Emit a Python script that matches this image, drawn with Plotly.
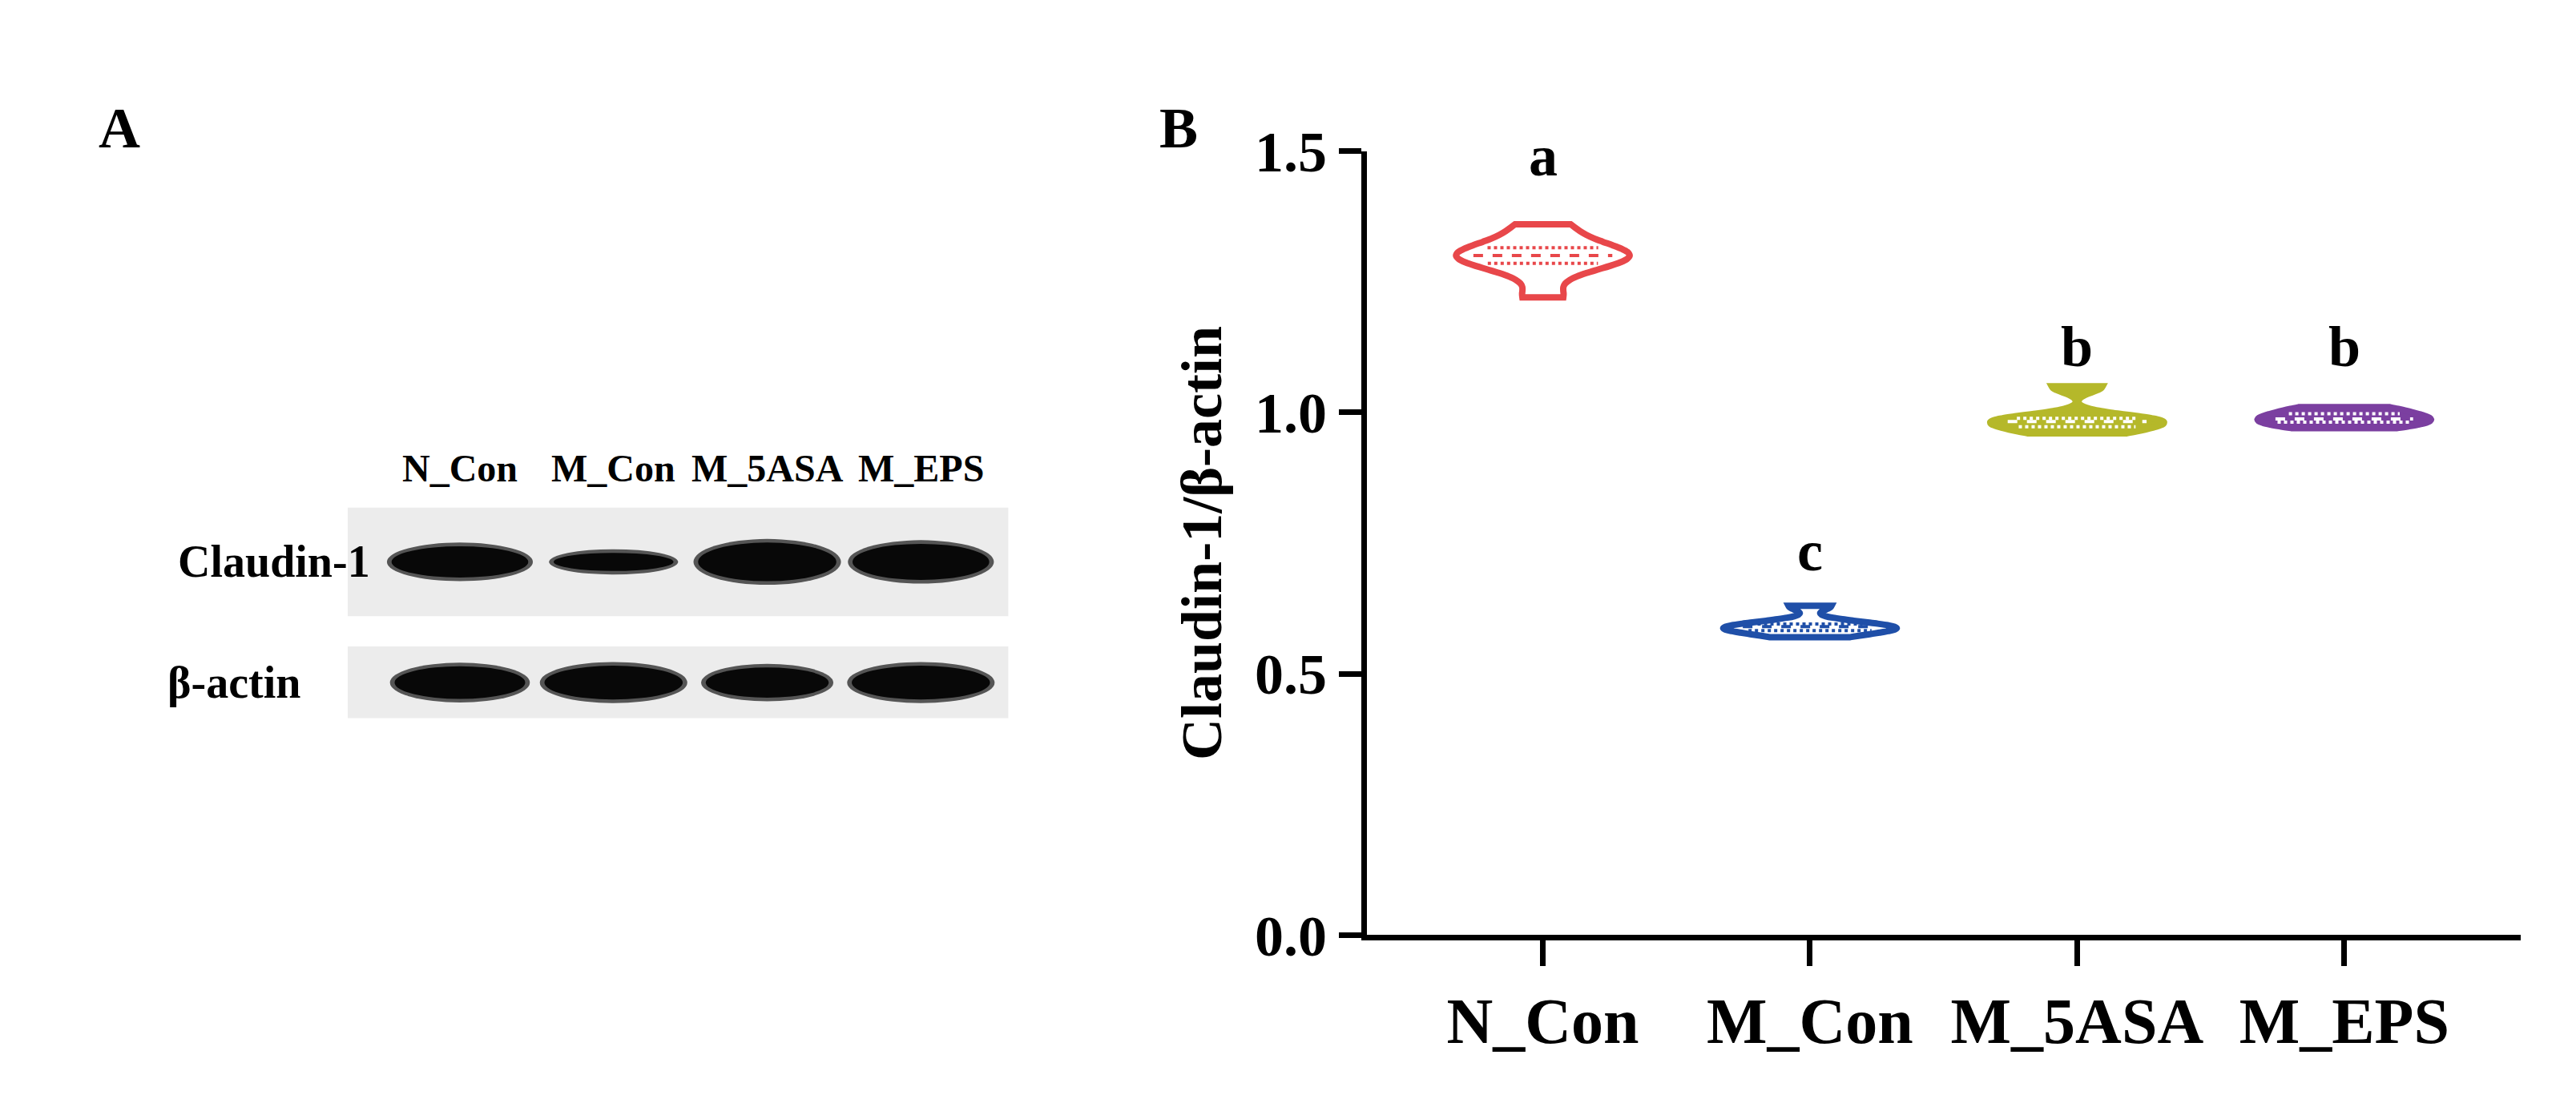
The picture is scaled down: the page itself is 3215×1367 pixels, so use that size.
import numpy as np
import plotly.graph_objects as go

# panel B data
groups = ["N_Con", "M_Con", "M_5ASA", "M_EPS"]
values = [
    [1.22, 1.27, 1.29, 1.30, 1.30, 1.31, 1.33, 1.36],
    [0.57, 0.58, 0.585, 0.59, 0.59, 0.60, 0.63],
    [0.96, 0.97, 0.98, 0.985, 0.99, 1.05],
    [0.97, 0.98, 0.985, 0.99, 1.00, 1.01],
]
letters = ["a", "c", "b", "b"]
letter_y = [1.49, 0.735, 1.125, 1.125]
colors = ["#e8474a", "#1f4fa8", "#b5b82a", "#7b3fa0"]
fills = ["white", "white", "#b5b82a", "#7b3fa0"]
inner = ["#e8474a", "#1f4fa8", "white", "white"]

# panel A blot (relative band sizes per lane)
lanes = ["N_Con", "M_Con", "M_5ASA", "M_EPS"]
rows = ["Claudin-1", "β-actin"]
band_w = [[0.89, 0.78, 0.90, 0.89], [0.85, 0.90, 0.80, 0.90]]
band_h = [[0.26, 0.15, 0.32, 0.30], [0.27, 0.28, 0.25, 0.28]]
row_box_h = [0.45, 0.30]
row_label_x = [0.066, 0.062]

FONT = "Liberation Serif"
VW = 0.65

fig = go.Figure()


def kde(data, pts):
    d = np.asarray(data)
    q1, q3 = np.percentile(d, [25, 75])
    bw = 1.059 * min(d.std(ddof=1), (q3 - q1) / 1.349) * len(d) ** -0.2
    return np.exp(-0.5 * ((pts[:, None] - d[None, :]) / bw) ** 2).sum(axis=1)


for i, g in enumerate(groups):
    fig.add_trace(go.Violin(
        x=[g] * len(values[i]), y=values[i], name=g, spanmode="hard",
        width=VW, scalemode="width", points=False, box_visible=False,
        fillcolor=fills[i], line=dict(color=colors[i], width=8),
        opacity=1, showlegend=False, hoverinfo="skip"))
    d = np.asarray(values[i])
    grid = np.linspace(d.min(), d.max(), 200)
    dmax = kde(d, grid).max()
    for q, dash in [(25, "dot"), (50, "dash"), (75, "dot")]:
        yq = np.percentile(d, q)
        hw = kde(d, np.array([yq]))[0] / dmax * VW / 2 * 0.8
        fig.add_trace(go.Scatter(
            x=[i - hw, i + hw], y=[yq, yq], mode="lines", xaxis="x3", yaxis="y",
            line=dict(color=inner[i], width=4, dash=dash),
            showlegend=False, hoverinfo="skip"))
    fig.add_annotation(x=g, y=letter_y[i], text="<b>%s</b>" % letters[i],
                       showarrow=False, font=dict(family=FONT, size=72, color="black"))

# blot panel
shapes = []
for r in range(len(rows)):
    shapes.append(dict(type="rect", xref="x2", yref="y2", x0=0.27, x1=4.57,
                       y0=r + 1 - row_box_h[r], y1=r + 1 + row_box_h[r],
                       fillcolor="#ececec", line=dict(width=0), layer="below"))
    for j in range(len(lanes)):
        w, h = band_w[r][j], band_h[r][j]
        shapes.append(dict(type="circle", xref="x2", yref="y2",
                           x0=j + 1 - w / 2 - 0.03, x1=j + 1 + w / 2 + 0.03,
                           y0=r + 1 - h / 2 - 0.03, y1=r + 1 + h / 2 + 0.03,
                           fillcolor="#555555", line=dict(width=0)))
        shapes.append(dict(type="circle", xref="x2", yref="y2",
                           x0=j + 1 - w / 2, x1=j + 1 + w / 2,
                           y0=r + 1 - h / 2, y1=r + 1 + h / 2,
                           fillcolor="#080808", line=dict(width=0)))
    fig.add_annotation(x=row_label_x[r], xref="paper", y=r + 1, yref="y2",
                       text="<b>%s</b>" % rows[r], showarrow=False,
                       font=dict(family=FONT, size=56, color="black"))
for j, ln in enumerate(lanes):
    fig.add_annotation(x=j + 1, xref="x2", y=0.582, yref="paper", text="<b>%s</b>" % ln,
                       showarrow=False, font=dict(family=FONT, size=48, color="black"))

fig.add_annotation(x=0.035, y=0.945, xref="paper", yref="paper", text="<b>A</b>",
                   showarrow=False, font=dict(family=FONT, size=72, color="black"))
fig.add_annotation(x=0.455, y=0.945, xref="paper", yref="paper", text="<b>B</b>",
                   showarrow=False, font=dict(family=FONT, size=72, color="black"))

axis_font = dict(family=FONT, size=72, color="black")
fig.update_layout(
    width=3215, height=1367, margin=dict(l=0, r=0, t=0, b=0),
    paper_bgcolor="white", plot_bgcolor="white", shapes=shapes,
    xaxis=dict(domain=[0.528, 0.976], range=[-0.66, 3.66], type="category",
               showline=True, linecolor="black", linewidth=7, ticks="outside",
               ticklen=32, tickwidth=7, tickcolor="black", showgrid=False,
               tickfont=dict(family=FONT, size=80, color="black"),
               tickprefix="<b>", ticksuffix="</b>", zeroline=False),
    xaxis3=dict(domain=[0.528, 0.976], range=[-0.66, 3.66], overlaying="x",
                visible=False, anchor="y"),
    yaxis=dict(domain=[0.1295, 0.89], range=[0, 1.5], tickvals=[0, 0.5, 1.0, 1.5],
               ticktext=["<b>0.0</b>", "<b>0.5</b>", "<b>1.0</b>", "<b>1.5</b>"],
               showline=True, linecolor="black", linewidth=7, ticks="outside",
               ticklen=28, tickwidth=7, tickcolor="black", showgrid=False,
               zeroline=False, tickfont=axis_font,
               title=dict(text="<b>Claudin-1/β-actin</b>", standoff=20,
                          font=dict(family=FONT, size=72, color="black"))),
    xaxis2=dict(domain=[0.1325, 0.389], range=[0.27, 4.57], visible=False, anchor="y2"),
    yaxis2=dict(domain=[0.340, 0.561], range=[2.294, 0.406], visible=False, anchor="x2"),
)

fig.write_html("out.html")
